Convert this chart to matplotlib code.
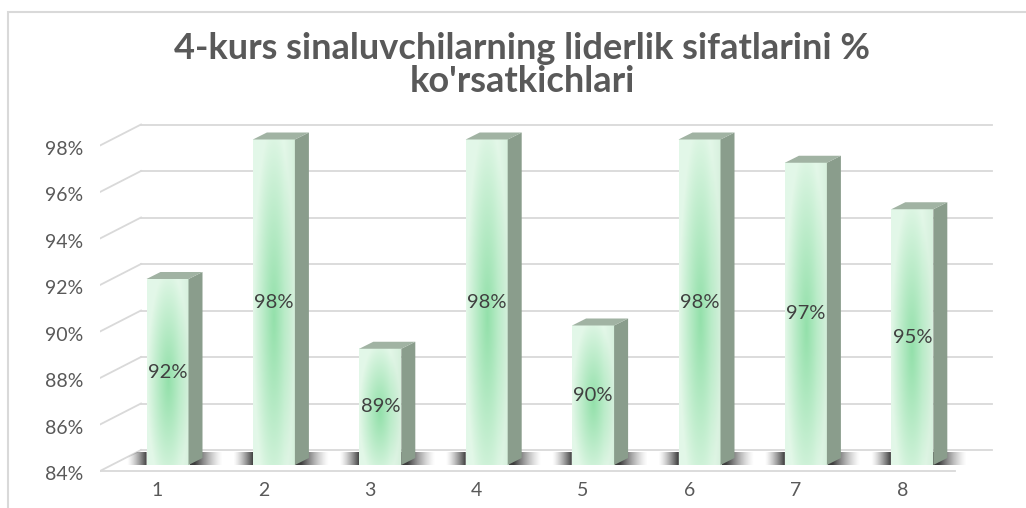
import numpy as np
import matplotlib
matplotlib.use('Agg')
import matplotlib.pyplot as plt
from matplotlib.patches import Polygon, Rectangle

# ---------------- data ----------------
categories = ['1', '2', '3', '4', '5', '6', '7', '8']
values = [92, 98, 89, 98, 90, 98, 97, 95]
yticks = [84, 86, 88, 90, 92, 94, 96, 98]
ytick_labels = [f'{v}%' for v in yticks]
data_labels = [f'{v}%' for v in values]
title_lines = ["4-kurs sinaluvchilarning liderlik sifatlarini %", "ko'rsatkichlari"]

# ---------------- layout ----------------
W, H = 1026, 508
fig = plt.figure(figsize=(W / 100, H / 100), dpi=100)
fig.patch.set_facecolor('white')

ax_l, ax_r, ax_t, ax_b = 100, 1000, 100, 478
ax = fig.add_axes([ax_l / W, (H - ax_b) / H, (ax_r - ax_l) / W, (ax_b - ax_t) / H])
px_x = 106.4   # pixels per category
px_y = 23.25   # pixels per percent
x0px = 61.1    # pixel of x = 0
y_base_px = 465
base = yticks[0]
ax.set_xlim((ax_l - x0px) / px_x, (ax_r - x0px) / px_x)
ax.set_ylim(base + (y_base_px - ax_b) / px_y, base + (y_base_px - ax_t) / px_y)


def dx(p):
    return p / px_x


def dy(p):
    return p / px_y


def X(p):
    return (p - x0px) / px_x


grid_c = '#d9d9d9'
# back wall gridlines + left wall diagonals
for v in yticks:
    ax.plot([X(141), X(992)], [v + dy(15), v + dy(15)], color=grid_c, lw=1.3, zorder=1)
    ax.plot([X(100), X(141)], [v - dy(6), v + dy(15)], color=grid_c, lw=1.3, zorder=1)
# floor front edge
ax.plot([X(100), X(955)], [base - dy(6), base - dy(6)], color=grid_c, lw=1.3, zorder=1)

# floor shadows
xs = np.linspace(X(100), X(992), 900)
dark = np.zeros_like(xs)
for i in range(len(values)):
    c = i + 1
    left = c - dx(21)
    right = c + dx(21)
    dl = (left - xs) / dx(1)
    dr = (xs - right) / dx(1)
    sl = np.where(dl >= 0, np.clip(1 - dl / 20.0, 0, 1) ** 1.4, 0)
    sr = np.where(dr >= 0, np.clip(1 - np.maximum(dr - 6, 0) / 28.0, 0, 1) ** 1.4, 0)
    dark = np.maximum(dark, np.maximum(sl, sr))
img = np.zeros((2, len(xs), 4))
img[..., 0:3] = 0.2
img[..., 3] = np.clip(dark, 0, 1)[None, :] * 0.95
floor_poly = Polygon([(X(100), base - dy(6)), (X(141), base + dy(15)),
                      (X(992), base + dy(15)), (X(955), base - dy(6))],
                     closed=True, facecolor='none', edgecolor='none')
ax.add_patch(floor_poly)
sh = ax.imshow(img, extent=[xs[0], xs[-1], base, base + dy(13)], aspect='auto',
               interpolation='bilinear', zorder=1.5, origin='lower')
sh.set_clip_path(floor_poly)

# bars
nu, nw = 60, 160
u = np.linspace(0, 1, nu)[None, :]
w = np.linspace(0, 1, nw)[:, None]
center_col = np.array([0.58, 0.88, 0.67])
edge_col = np.array([0.89, 0.97, 0.91])
side_col = '#8a9d8c'
top_col = '#a1b3a3'
for i, v in enumerate(values):
    c = i + 1
    hw = dx(21)
    hgt = v - base
    hpx = hgt * px_y
    wy = (w * hpx - hpx * 0.45) / max(hpx * 0.6, 60)
    r = np.sqrt(((u - 0.5) / 0.5) ** 2 + wy ** 2)
    t = np.clip(r, 0, 1) ** 1.1
    face = center_col[None, None, :] + (edge_col - center_col)[None, None, :] * t[..., None]
    face = face - 0.05 * np.clip((u - 0.75) / 0.25, 0, 1)[..., None] * np.array([1, 0.6, 0.9])
    ax.imshow(np.clip(face, 0, 1), extent=[c - hw, c + hw, base, v], aspect='auto',
              origin='lower', interpolation='bilinear', zorder=3)
    ddx, ddy = dx(14), dy(7)
    ax.add_patch(Polygon([(c + hw, base), (c + hw + ddx, base + ddy),
                          (c + hw + ddx, v + ddy), (c + hw, v)],
                         closed=True, facecolor=side_col, edgecolor='none', zorder=3))
    ax.add_patch(Polygon([(c - hw, v), (c - hw + ddx, v + ddy),
                          (c + hw + ddx, v + ddy), (c + hw, v)],
                         closed=True, facecolor=top_col, edgecolor='none', zorder=3))
    ax.text(c, (base + v) / 2, data_labels[i], ha='center', va='center',
            fontsize=14.5, color='#404040', family='Lato', zorder=5)

# ticks (placed on the front edge of the 3-D walls)
ax.set_yticks([v - dy(8) for v in yticks], labels=ytick_labels)
ax.set_xticks([i + 1 - dx(10) for i in range(len(categories))], labels=categories)
ax.tick_params(axis='y', length=0, pad=12, labelsize=14, labelcolor='#595959')
ax.tick_params(axis='x', length=0, pad=3, labelsize=14, labelcolor='#595959')
for lab in ax.get_xticklabels() + ax.get_yticklabels():
    lab.set_family('Lato')
for s in ax.spines.values():
    s.set_visible(False)
ax.set_facecolor('none')

# title
fig.text(522 / W, 1 - 59 / H, title_lines[0], ha='center', va='baseline', fontsize=26,
         fontweight='bold', color='#595959', family='Lato')
fig.text(522 / W, 1 - 92 / H, title_lines[1], ha='center', va='baseline', fontsize=26,
         fontweight='bold', color='#595959', family='Lato')

# chart frame
fig.add_artist(Rectangle((8 / W, -0.1), 1.2, (H - 12) / H + 0.1, transform=fig.transFigure,
                         fill=False, edgecolor='#d9d9d9', lw=1.5))

fig.savefig('out.png', dpi=100)
